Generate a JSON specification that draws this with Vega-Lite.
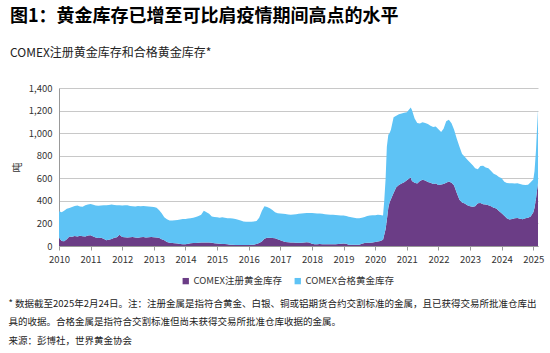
{
 "$schema": "https://vega.github.io/schema/vega-lite/v6.json",
 "width": 479, "height": 158,
 "autosize": {"type": "none"},
 "padding": {"left": 59, "top": 88, "right": 12, "bottom": 107},
 "background": "white",
 "config": {"font": "Noto Sans CJK SC", "view": {"stroke": null}},
 "title": {"text": "图1：黄金库存已增至可比肩疫情期间高点的水平", "subtitle": "COMEX注册黄金库存和合格黄金库存*", "anchor": "start", "frame": "group", "dx": -49, "fontSize": 18, "fontWeight": "bold", "color": "#000", "subtitleFontSize": 12, "subtitleColor": "#222", "subtitlePadding": 22, "offset": 24},
 "data": {"values": [
  {"date":"2010-01-01","reg":72,"elig":235},{"date":"2010-02-01","reg":45,"elig":255},{"date":"2010-03-01","reg":42,"elig":270},{"date":"2010-04-01","reg":60,"elig":270},{"date":"2010-05-01","reg":85,"elig":252},{"date":"2010-06-01","reg":82,"elig":263},{"date":"2010-07-01","reg":88,"elig":267},{"date":"2010-08-01","reg":85,"elig":273},{"date":"2010-09-01","reg":90,"elig":260},{"date":"2010-10-01","reg":87,"elig":261},{"date":"2010-11-01","reg":85,"elig":275},{"date":"2010-12-01","reg":92,"elig":276},
  {"date":"2011-01-01","reg":96,"elig":277},{"date":"2011-02-01","reg":85,"elig":280},{"date":"2011-03-01","reg":75,"elig":283},{"date":"2011-04-01","reg":70,"elig":286},{"date":"2011-05-01","reg":72,"elig":286},{"date":"2011-06-01","reg":65,"elig":297},{"date":"2011-07-01","reg":50,"elig":311},{"date":"2011-08-01","reg":55,"elig":309},{"date":"2011-09-01","reg":62,"elig":305},{"date":"2011-10-01","reg":72,"elig":292},{"date":"2011-11-01","reg":78,"elig":284},{"date":"2011-12-01","reg":100,"elig":261},
  {"date":"2012-01-01","reg":80,"elig":278},{"date":"2012-02-01","reg":78,"elig":284},{"date":"2012-03-01","reg":75,"elig":285},{"date":"2012-04-01","reg":78,"elig":277},{"date":"2012-05-01","reg":80,"elig":272},{"date":"2012-06-01","reg":76,"elig":274},{"date":"2012-07-01","reg":74,"elig":280},{"date":"2012-08-01","reg":78,"elig":274},{"date":"2012-09-01","reg":80,"elig":275},{"date":"2012-10-01","reg":76,"elig":276},{"date":"2012-11-01","reg":78,"elig":272},{"date":"2012-12-01","reg":80,"elig":268},
  {"date":"2013-01-01","reg":78,"elig":267},{"date":"2013-02-01","reg":76,"elig":264},{"date":"2013-03-01","reg":72,"elig":246},{"date":"2013-04-01","reg":60,"elig":230},{"date":"2013-05-01","reg":50,"elig":205},{"date":"2013-06-01","reg":35,"elig":203},{"date":"2013-07-01","reg":28,"elig":197},{"date":"2013-08-01","reg":27,"elig":199},{"date":"2013-09-01","reg":25,"elig":203},{"date":"2013-10-01","reg":22,"elig":208},{"date":"2013-11-01","reg":18,"elig":217},{"date":"2013-12-01","reg":15,"elig":225},
  {"date":"2014-01-01","reg":15,"elig":225},{"date":"2014-02-01","reg":20,"elig":224},{"date":"2014-03-01","reg":25,"elig":221},{"date":"2014-04-01","reg":27,"elig":223},{"date":"2014-05-01","reg":27,"elig":231},{"date":"2014-06-01","reg":28,"elig":237},{"date":"2014-07-01","reg":30,"elig":248},{"date":"2014-08-01","reg":32,"elig":280},{"date":"2014-09-01","reg":32,"elig":268},{"date":"2014-10-01","reg":30,"elig":255},{"date":"2014-11-01","reg":28,"elig":234},{"date":"2014-12-01","reg":25,"elig":233},
  {"date":"2015-01-01","reg":22,"elig":233},{"date":"2015-02-01","reg":20,"elig":230},{"date":"2015-03-01","reg":18,"elig":237},{"date":"2015-04-01","reg":18,"elig":232},{"date":"2015-05-01","reg":15,"elig":231},{"date":"2015-06-01","reg":12,"elig":233},{"date":"2015-07-01","reg":10,"elig":234},{"date":"2015-08-01","reg":9,"elig":231},{"date":"2015-09-01","reg":9,"elig":223},{"date":"2015-10-01","reg":9,"elig":216},{"date":"2015-11-01","reg":8,"elig":210},{"date":"2015-12-01","reg":9,"elig":205},
  {"date":"2016-01-01","reg":9,"elig":205},{"date":"2016-02-01","reg":10,"elig":205},{"date":"2016-03-01","reg":12,"elig":206},{"date":"2016-04-01","reg":18,"elig":204},{"date":"2016-05-01","reg":26,"elig":224},{"date":"2016-06-01","reg":40,"elig":270},{"date":"2016-07-01","reg":65,"elig":287},{"date":"2016-08-01","reg":72,"elig":273},{"date":"2016-09-01","reg":72,"elig":263},{"date":"2016-10-01","reg":70,"elig":250},{"date":"2016-11-01","reg":68,"elig":232},{"date":"2016-12-01","reg":60,"elig":230},
  {"date":"2017-01-01","reg":50,"elig":237},{"date":"2017-02-01","reg":42,"elig":243},{"date":"2017-03-01","reg":36,"elig":247},{"date":"2017-04-01","reg":34,"elig":246},{"date":"2017-05-01","reg":32,"elig":246},{"date":"2017-06-01","reg":30,"elig":250},{"date":"2017-07-01","reg":29,"elig":253},{"date":"2017-08-01","reg":29,"elig":256},{"date":"2017-09-01","reg":28,"elig":260},{"date":"2017-10-01","reg":30,"elig":260},{"date":"2017-11-01","reg":33,"elig":259},{"date":"2017-12-01","reg":30,"elig":263},
  {"date":"2018-01-01","reg":20,"elig":273},{"date":"2018-02-01","reg":16,"elig":274},{"date":"2018-03-01","reg":16,"elig":272},{"date":"2018-04-01","reg":17,"elig":270},{"date":"2018-05-01","reg":16,"elig":269},{"date":"2018-06-01","reg":15,"elig":267},{"date":"2018-07-01","reg":16,"elig":264},{"date":"2018-08-01","reg":15,"elig":263},{"date":"2018-09-01","reg":16,"elig":260},{"date":"2018-10-01","reg":16,"elig":259},{"date":"2018-11-01","reg":18,"elig":254},{"date":"2018-12-01","reg":20,"elig":250},
  {"date":"2019-01-01","reg":22,"elig":248},{"date":"2019-02-01","reg":20,"elig":245},{"date":"2019-03-01","reg":12,"elig":248},{"date":"2019-04-01","reg":10,"elig":245},{"date":"2019-05-01","reg":10,"elig":240},{"date":"2019-06-01","reg":10,"elig":236},{"date":"2019-07-01","reg":12,"elig":233},{"date":"2019-08-01","reg":20,"elig":230},{"date":"2019-09-01","reg":26,"elig":232},{"date":"2019-10-01","reg":28,"elig":237},{"date":"2019-11-01","reg":28,"elig":242},{"date":"2019-12-01","reg":30,"elig":242},
  {"date":"2020-01-01","reg":36,"elig":236},{"date":"2020-02-01","reg":40,"elig":238},{"date":"2020-03-01","reg":45,"elig":230},{"date":"2020-04-01","reg":55,"elig":215},{"date":"2020-04-15","reg":100,"elig":300},{"date":"2020-05-01","reg":150,"elig":450},{"date":"2020-05-15","reg":230,"elig":650},{"date":"2020-06-01","reg":340,"elig":645},{"date":"2020-06-15","reg":385,"elig":615},{"date":"2020-07-01","reg":415,"elig":615},{"date":"2020-08-01","reg":470,"elig":670},{"date":"2020-09-01","reg":520,"elig":635},{"date":"2020-10-01","reg":540,"elig":628},{"date":"2020-11-01","reg":553,"elig":622},{"date":"2020-12-01","reg":565,"elig":615},
  {"date":"2021-01-01","reg":582,"elig":603},{"date":"2021-02-01","reg":600,"elig":615},{"date":"2021-02-15","reg":606,"elig":622},{"date":"2021-03-01","reg":575,"elig":630},{"date":"2021-04-01","reg":560,"elig":570},{"date":"2021-05-01","reg":553,"elig":537},{"date":"2021-06-01","reg":575,"elig":510},{"date":"2021-07-01","reg":588,"elig":509},{"date":"2021-08-01","reg":580,"elig":510},{"date":"2021-09-01","reg":567,"elig":513},{"date":"2021-10-01","reg":560,"elig":505},{"date":"2021-11-01","reg":550,"elig":505},{"date":"2021-12-01","reg":553,"elig":505},
  {"date":"2022-01-01","reg":540,"elig":495},{"date":"2022-02-01","reg":545,"elig":465},{"date":"2022-03-01","reg":550,"elig":490},{"date":"2022-04-01","reg":560,"elig":545},{"date":"2022-05-01","reg":572,"elig":546},{"date":"2022-06-01","reg":560,"elig":528},{"date":"2022-07-01","reg":535,"elig":495},{"date":"2022-08-01","reg":470,"elig":480},{"date":"2022-09-01","reg":410,"elig":470},{"date":"2022-10-01","reg":385,"elig":430},{"date":"2022-11-01","reg":376,"elig":414},{"date":"2022-12-01","reg":360,"elig":405},
  {"date":"2023-01-01","reg":352,"elig":388},{"date":"2023-02-01","reg":347,"elig":368},{"date":"2023-03-01","reg":352,"elig":338},{"date":"2023-04-01","reg":378,"elig":302},{"date":"2023-05-01","reg":380,"elig":328},{"date":"2023-06-01","reg":370,"elig":340},{"date":"2023-07-01","reg":367,"elig":328},{"date":"2023-08-01","reg":362,"elig":326},{"date":"2023-09-01","reg":352,"elig":313},{"date":"2023-10-01","reg":340,"elig":300},{"date":"2023-11-01","reg":332,"elig":298},{"date":"2023-12-01","reg":310,"elig":302},
  {"date":"2024-01-01","reg":290,"elig":310},{"date":"2024-02-01","reg":268,"elig":302},{"date":"2024-03-01","reg":245,"elig":313},{"date":"2024-04-01","reg":235,"elig":320},{"date":"2024-05-01","reg":240,"elig":316},{"date":"2024-06-01","reg":246,"elig":307},{"date":"2024-07-01","reg":248,"elig":308},{"date":"2024-08-01","reg":242,"elig":308},{"date":"2024-09-01","reg":238,"elig":305},{"date":"2024-10-01","reg":245,"elig":295},{"date":"2024-11-01","reg":250,"elig":292},{"date":"2024-12-01","reg":262,"elig":303},
  {"date":"2025-01-01","reg":298,"elig":292},{"date":"2025-01-15","reg":340,"elig":325},{"date":"2025-02-01","reg":420,"elig":430},{"date":"2025-02-12","reg":490,"elig":540},{"date":"2025-02-24","reg":555,"elig":650}
 ]},
 "transform": [{"fold": ["reg", "elig"], "as": ["series", "value"]}],
 "mark": {"type": "area", "interpolate": "linear"},
 "encoding": {
  "x": {"field": "date", "type": "temporal",
   "scale": {"type": "utc", "domain": [{"year": 2010, "month": 1, "date": 1, "utc": true}, {"year": 2025, "month": 2, "date": 24, "utc": true}]},
   "axis": {"format": "%Y", "formatType": "utc", "tickCount": {"interval": "year", "step": 1}, "labelFontSize": 9.5, "labelColor": "#333", "labelPadding": 4, "tickSize": 4, "tickColor": "#999", "domainColor": "#999", "grid": false, "labelFlush": false, "labelOverlap": false,
    "title": ["* 数据截至2025年2月24日。注：注册金属是指符合黄金、白银、铜或铝期货合约交割标准的金属，且已获得交易所批准仓库出", "具的收据。合格金属是指符合交割标准但尚未获得交易所批准仓库收据的金属。", "来源：彭博社，世界黄金协会"],
    "titleFontSize": 9.5, "titleFontWeight": "normal", "titleColor": "#222", "titleAnchor": "start", "titleAlign": "left", "titleX": -51, "titleY": 52, "titleBaseline": "top", "titleLineHeight": 18.5}},
  "y": {"field": "value", "type": "quantitative", "stack": "zero",
   "scale": {"domain": [0, 1400]},
   "axis": {"values": [0, 200, 400, 600, 800, 1000, 1200, 1400], "format": ",.0f", "labelFontSize": 9.5, "labelColor": "#333", "ticks": false, "labelPadding": 7, "domainColor": "#999", "gridColor": "#c8c8c8", "title": "吨", "titleFontSize": 10, "titleFontWeight": "normal", "titleColor": "#333", "titlePadding": 6}},
  "color": {"field": "series", "type": "nominal",
   "scale": {"domain": ["reg", "elig"], "range": ["#6b3d86", "#5ec3f5"]},
   "legend": {"orient": "none", "legendX": 122, "legendY": 188, "direction": "horizontal", "title": null, "symbolType": "square", "symbolSize": 40, "symbolStrokeWidth": 0, "labelFontSize": 9.5, "labelColor": "#333", "columnSpacing": 14, "labelOffset": 3,
    "labelExpr": "datum.value == 'reg' ? 'COMEX注册黄金库存' : 'COMEX合格黄金库存'"}},
  "order": {"field": "series", "sort": "descending"}
 }
}
